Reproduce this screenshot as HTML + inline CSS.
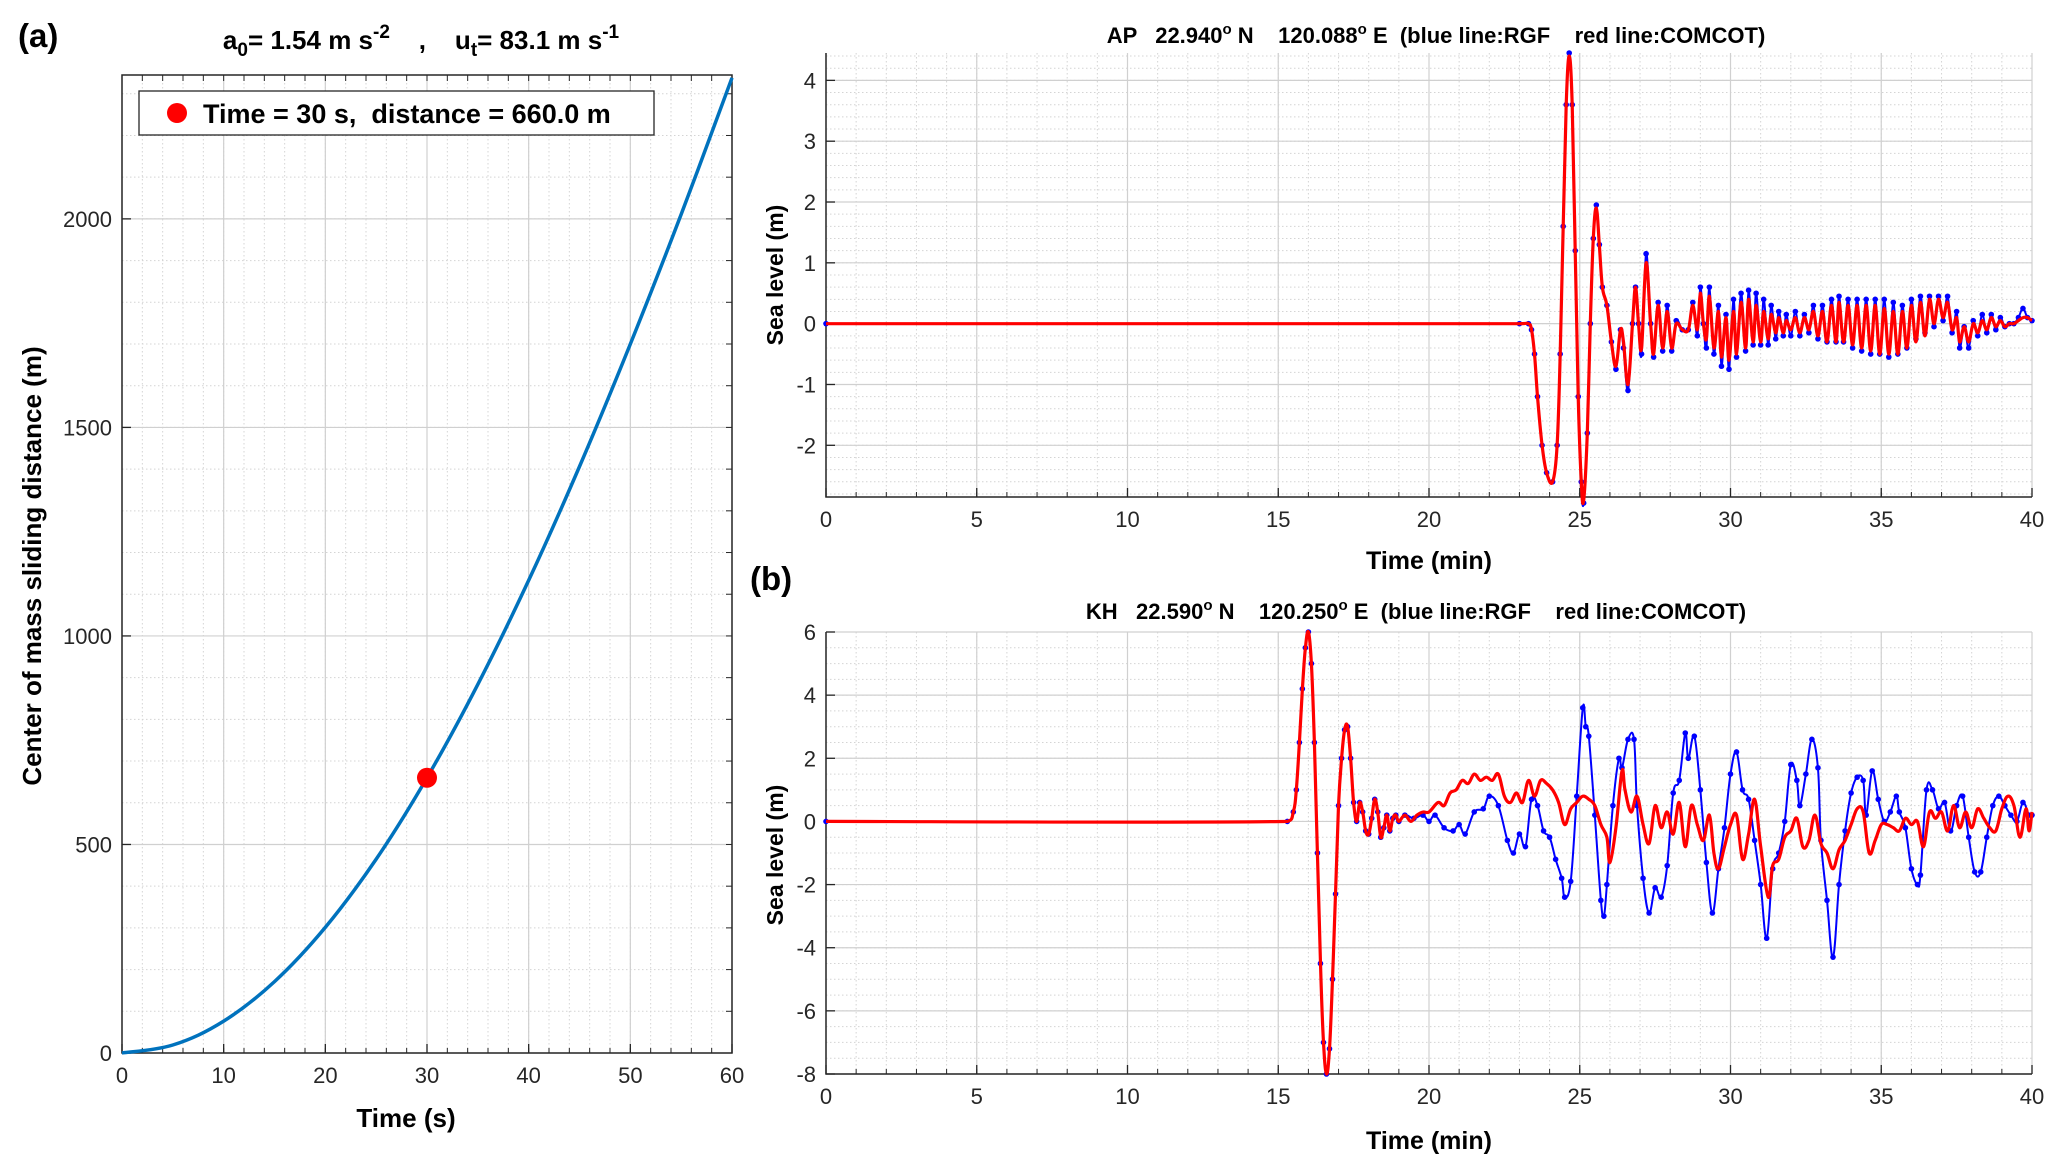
<!DOCTYPE html>
<html><head><meta charset="utf-8"><style>
html,body{margin:0;padding:0;background:#fff;}
svg{display:block;font-family:"Liberation Sans",Arial,sans-serif;}
text{white-space:pre;}
</style></head><body>
<svg id="fig" width="2051" height="1173" viewBox="0 0 2051 1173" xmlns="http://www.w3.org/2000/svg" xml:space="preserve">
<rect width="2051" height="1173" fill="#fff"/>
<g id="gA"></g>
<g id="gAP"></g>
<g id="gKH"></g>
<text x="18" y="47" font-size="33" font-weight="bold">(a)</text>
<text x="750" y="590" font-size="33" font-weight="bold">(b)</text>
<text x="421" y="49" text-anchor="middle" font-size="26" font-weight="bold">a<tspan font-size="19" dy="7">0</tspan><tspan dy="-7">= 1.54 m s</tspan><tspan font-size="19" dy="-11">-2</tspan><tspan dy="11">    ,    u</tspan><tspan font-size="19" dy="7">t</tspan><tspan dy="-7">= 83.1 m s</tspan><tspan font-size="19" dy="-11">-1</tspan></text>
<text x="1436" y="43" text-anchor="middle" font-size="22" font-weight="bold">AP   22.940<tspan font-size="15" dy="-9">o</tspan><tspan dy="9"> N    120.088</tspan><tspan font-size="15" dy="-9">o</tspan><tspan dy="9"> E  (blue line:RGF    red line:COMCOT)</tspan></text>
<text x="1416" y="619" text-anchor="middle" font-size="22" font-weight="bold">KH   22.590<tspan font-size="15" dy="-9">o</tspan><tspan dy="9"> N    120.250</tspan><tspan font-size="15" dy="-9">o</tspan><tspan dy="9"> E  (blue line:RGF    red line:COMCOT)</tspan></text>
</svg>
<script>
// Panel (a) data
const aTime = [0,5,10,15,20,25,30,35,40,45,50,55,60];
const aDist = [0,19.2,76.6,171.1,301.2,464.9,660.0,883.7,1133.4,1406.3,1699.7,2011.1,2338.3];
const aXTicks = [0,10,20,30,40,50,60];
const aYTicks = [0,500,1000,1500,2000];
const aMarkT = [30];
const aMarkD = [660.0];
// AP data
const apTime = [0,23.0,23.3,23.4,23.5,23.6,23.75,23.9,24.1,24.25,24.35,24.45,24.55,24.65,24.75,24.85,24.95,25.05,25.13,25.25,25.35,25.45,25.55,25.65,25.75,25.9,26.05,26.2,26.35,26.45,26.6,26.75,26.85,26.95,27.05,27.2,27.35,27.45,27.6,27.75,27.9,28.05,28.2,28.4,28.6,28.75,28.9,29.0,29.1,29.2,29.3,29.45,29.6,29.7,29.85,29.95,30.1,30.2,30.35,30.5,30.6,30.75,30.85,31.0,31.1,31.25,31.35,31.5,31.6,31.75,31.85,32.0,32.15,32.3,32.45,32.6,32.75,32.9,33.05,33.2,33.35,33.5,33.6,33.75,33.9,34.05,34.2,34.35,34.5,34.65,34.8,34.95,35.1,35.25,35.4,35.55,35.7,35.85,36.0,36.15,36.3,36.45,36.6,36.75,36.9,37.05,37.2,37.35,37.5,37.6,37.75,37.9,38.05,38.2,38.35,38.5,38.65,38.8,38.95,39.1,39.25,39.4,39.55,39.7,39.85,40.0];
const apRed = [0,0,0,-0.1,-0.5,-1.2,-2.0,-2.45,-2.6,-2.0,-0.5,1.6,3.6,4.4,3.6,1.2,-1.2,-2.6,-2.9,-1.8,0.0,1.4,1.9,1.3,0.6,0.3,-0.3,-0.7,-0.1,-0.3,-1.0,0.0,0.6,0.0,-0.4,1.0,0.0,-0.5,0.3,-0.4,0.2,-0.4,0.0,-0.1,-0.1,0.3,-0.1,0.5,0.0,-0.25,0.45,-0.4,0.2,-0.55,0.1,-0.6,0.2,-0.5,0.35,-0.4,0.4,-0.3,0.3,-0.3,0.2,-0.25,0.15,-0.15,0.1,-0.15,0.05,-0.1,0.1,-0.15,0.1,-0.1,0.2,-0.2,0.2,-0.3,0.3,-0.3,0.35,-0.3,0.3,-0.35,0.3,-0.4,0.3,-0.45,0.3,-0.5,0.25,-0.5,0.2,-0.5,0.2,-0.4,0.3,-0.3,0.35,-0.2,0.4,0.0,0.4,0.1,0.35,-0.1,0.1,-0.3,-0.05,-0.3,0.0,-0.15,0.05,-0.1,0.1,-0.05,0.05,-0.05,0.0,0.0,0.05,0.1,0.1,0.05];
const apBlue = [0,0,0,-0.1,-0.5,-1.2,-2.0,-2.45,-2.6,-2.0,-0.5,1.6,3.6,4.45,3.6,1.2,-1.2,-2.6,-2.95,-1.8,0.0,1.4,1.95,1.3,0.6,0.3,-0.3,-0.75,-0.1,-0.4,-1.1,0.0,0.6,0.0,-0.5,1.15,0.0,-0.55,0.35,-0.45,0.3,-0.45,0.05,-0.1,-0.1,0.35,-0.2,0.6,0.0,-0.4,0.6,-0.5,0.3,-0.7,0.15,-0.75,0.4,-0.55,0.5,-0.45,0.55,-0.35,0.5,-0.35,0.4,-0.35,0.3,-0.25,0.2,-0.2,0.15,-0.2,0.2,-0.2,0.15,-0.15,0.3,-0.25,0.3,-0.3,0.4,-0.3,0.45,-0.3,0.4,-0.4,0.4,-0.45,0.4,-0.5,0.4,-0.5,0.4,-0.55,0.35,-0.5,0.3,-0.4,0.4,-0.25,0.45,-0.15,0.45,-0.05,0.45,0.05,0.45,-0.15,0.2,-0.4,-0.05,-0.4,0.05,-0.2,0.15,-0.15,0.15,-0.1,0.1,-0.05,0.0,0.0,0.1,0.25,0.1,0.05];
const apXTicks = [0,5,10,15,20,25,30,35,40];
const apYTicks = [-2,-1,0,1,2,3,4];
// KH data
const khRedTime = [0,15.3,15.5,15.6,15.7,15.8,15.9,16.0,16.1,16.2,16.3,16.4,16.5,16.6,16.7,16.8,16.9,17.0,17.1,17.2,17.3,17.4,17.5,17.6,17.7,17.8,17.9,18.0,18.1,18.2,18.3,18.4,18.5,18.6,18.7,18.8,18.9,19.0,19.2,19.4,19.6,19.8,20.0,20.3,20.5,20.7,20.9,21.1,21.3,21.5,21.7,21.9,22.1,22.3,22.5,22.7,22.9,23.1,23.3,23.5,23.7,23.9,24.1,24.3,24.5,24.7,24.9,25.1,25.3,25.5,25.7,25.9,26.0,26.2,26.4,26.5,26.7,26.9,27.1,27.3,27.5,27.7,27.9,28.1,28.3,28.5,28.7,28.9,29.1,29.3,29.45,29.6,29.8,30.0,30.2,30.4,30.6,30.8,31.0,31.25,31.4,31.6,31.8,32.0,32.2,32.4,32.6,32.8,33.0,33.2,33.4,33.6,33.8,34.0,34.2,34.4,34.6,34.8,35.0,35.2,35.4,35.6,35.8,36.0,36.2,36.4,36.6,36.8,37.0,37.2,37.4,37.6,37.8,38.0,38.2,38.4,38.6,38.8,39.0,39.2,39.4,39.6,39.8,39.9,40.0];
const khRed = [0,0,0.3,1.0,2.5,4.2,5.5,6.0,5.0,2.5,-1.0,-4.5,-7.0,-8.0,-7.2,-5.0,-2.3,0.5,2.0,2.9,3.0,2.0,0.6,0.0,0.6,0.3,-0.3,-0.4,0.1,0.7,0.3,-0.5,-0.2,0.2,-0.3,0.1,0.2,0.0,0.2,0.0,0.2,0.3,0.3,0.6,0.5,0.9,1.0,1.3,1.2,1.5,1.3,1.4,1.3,1.5,0.8,0.6,0.9,0.6,1.3,0.8,1.3,1.2,1.0,0.6,-0.1,0.4,0.6,0.8,0.7,0.5,-0.1,-0.5,-1.3,-0.2,1.6,1.0,0.3,0.8,-0.1,-0.7,0.5,-0.2,0.3,-0.4,0.6,-0.8,0.5,-0.1,-0.6,0.2,-1.0,-1.5,-0.8,-0.1,0.2,-1.2,-0.4,0.7,-0.8,-2.4,-1.4,-1.2,-0.5,-0.3,0.1,-0.8,-0.6,0.2,-0.7,-1.0,-1.5,-0.9,-0.6,-0.1,0.4,0.3,-1.0,-0.6,-0.1,-0.1,-0.2,-0.3,0.1,-0.1,0.0,-0.8,0.3,0.1,0.3,-0.3,0.5,-0.2,0.3,-0.2,0.4,0.1,-0.2,-0.3,0.4,0.8,0.5,-0.5,0.4,-0.3,0.3];
const khBlueTime = [0,15.3,15.5,15.6,15.7,15.8,15.9,16.0,16.1,16.2,16.3,16.4,16.5,16.6,16.7,16.8,16.9,17.0,17.1,17.2,17.3,17.4,17.5,17.6,17.7,17.8,17.9,18.0,18.1,18.2,18.3,18.4,18.5,18.6,18.7,18.8,18.9,19.0,19.2,19.5,19.8,20.0,20.2,20.5,20.8,21.0,21.2,21.5,21.8,22.0,22.3,22.6,22.8,23.0,23.2,23.4,23.6,23.8,24.0,24.2,24.4,24.5,24.7,24.9,25.1,25.2,25.3,25.5,25.7,25.8,25.9,26.1,26.3,26.4,26.6,26.8,26.9,27.1,27.3,27.5,27.7,27.9,28.1,28.3,28.5,28.6,28.8,29.0,29.2,29.4,29.6,29.8,30.0,30.2,30.4,30.6,30.8,31.0,31.2,31.4,31.6,31.8,32.0,32.2,32.3,32.5,32.7,32.9,33.0,33.2,33.4,33.6,33.8,34.0,34.2,34.4,34.5,34.7,34.9,35.1,35.3,35.5,35.6,35.8,36.0,36.2,36.3,36.5,36.7,36.9,37.1,37.3,37.5,37.7,37.9,38.1,38.3,38.5,38.7,38.9,39.1,39.3,39.5,39.7,39.9,40.0];
const khBlue = [0,0,0.3,1.0,2.5,4.2,5.5,6.0,5.0,2.5,-1.0,-4.5,-7.0,-8.0,-7.2,-5.0,-2.3,0.5,2.0,2.9,3.0,2.0,0.6,0.0,0.6,0.3,-0.3,-0.4,0.1,0.7,0.3,-0.5,-0.2,0.2,-0.3,0.1,0.2,0.0,0.2,0.1,0.2,0.0,0.2,-0.2,-0.3,-0.1,-0.4,0.3,0.4,0.8,0.5,-0.6,-1.0,-0.4,-0.8,0.7,0.5,-0.3,-0.5,-1.2,-1.8,-2.4,-1.9,0.8,3.6,3.0,2.7,0.2,-2.5,-3.0,-2.0,0.5,2.0,1.7,2.6,2.6,0.5,-1.8,-2.9,-2.1,-2.4,-1.4,0.9,1.3,2.8,2.0,2.7,1.0,-1.3,-2.9,-1.5,-0.2,1.5,2.2,1.0,0.7,-0.6,-2.0,-3.7,-1.5,-1.0,0.0,1.8,1.3,0.5,1.5,2.6,1.7,-0.6,-2.5,-4.3,-2.0,-0.3,0.9,1.4,1.3,0.2,1.6,0.7,0.0,0.3,0.8,0.3,-0.2,-1.5,-2.0,-1.7,1.0,1.0,0.4,0.6,-0.3,0.5,0.8,-0.5,-1.6,-1.6,-0.5,0.5,0.8,0.5,0.2,0.0,0.6,0.2,0.2];
const khXTicks = [0,5,10,15,20,25,30,35,40];
const khYTicks = [-8,-6,-4,-2,0,2,4,6];

const NS = 'http://www.w3.org/2000/svg';
function mk(parent, tag, attrs, text){
  const e = document.createElementNS(NS, tag);
  for (const k in attrs) e.setAttribute(k, attrs[k]);
  if (text !== undefined) e.textContent = text;
  parent.appendChild(e);
  return e;
}
function smoothPath(pts){
  if (!pts.length) return '';
  let d = 'M' + pts[0][0].toFixed(1) + ',' + pts[0][1].toFixed(1);
  for (let i = 0; i < pts.length - 1; i++){
    const p0 = pts[Math.max(0,i-1)], p1 = pts[i], p2 = pts[i+1], p3 = pts[Math.min(pts.length-1,i+2)];
    const t = 0.18;
    let c1x = p1[0] + (p2[0]-p0[0])*t, c1y = p1[1] + (p2[1]-p0[1])*t;
    let c2x = p2[0] - (p3[0]-p1[0])*t, c2y = p2[1] - (p3[1]-p1[1])*t;
    c1x = Math.min(Math.max(c1x, p1[0]), p2[0]); c2x = Math.min(Math.max(c2x, p1[0]), p2[0]);
    d += 'C' + c1x.toFixed(1)+','+c1y.toFixed(1)+' '+c2x.toFixed(1)+','+c2y.toFixed(1)+' '+p2[0].toFixed(1)+','+p2[1].toFixed(1);
  }
  return d;
}

function axes(g, cfg){
  const {L,R,T,B,x0,x1,y0,y1,xTicks,yTicks,xMinor,yMinor,prefix} = cfg;
  const sx = v => L + (v-x0)/(x1-x0)*(R-L);
  const sy = v => B - (v-y0)/(y1-y0)*(B-T);
  for (let v = x0; v <= x1 + 1e-9; v += xMinor){
    const gl = mk(g,'line',{x1:sx(v),x2:sx(v),y1:T,y2:B,stroke:'#d4d4d4','stroke-width':1,'stroke-dasharray':'1.5,2.5'});
    
    
  }
  for (let v = Math.ceil(y0/yMinor)*yMinor; v <= y1 + 1e-9; v += yMinor){
    const gl = mk(g,'line',{x1:L,x2:R,y1:sy(v),y2:sy(v),stroke:'#d4d4d4','stroke-width':1,'stroke-dasharray':'1.5,2.5'});
    
    
  }
  xTicks.forEach(v => {
    const gl = mk(g,'line',{x1:sx(v),x2:sx(v),y1:T,y2:B,stroke:'#d0d0d0','stroke-width':1.2});
    
    
    const tk = mk(g,'line',{x1:sx(v),x2:sx(v),y1:B,y2:B-9,stroke:'#262626','stroke-width':1.3});
    
    
    const tl = mk(g,'text',{x:sx(v),y:B+30,'text-anchor':'middle','font-size':22,fill:'#262626'}, String(v));
    
    
  });
  yTicks.forEach(v => {
    const gl = mk(g,'line',{x1:L,x2:R,y1:sy(v),y2:sy(v),stroke:'#d0d0d0','stroke-width':1.2});
    
    
    const tk = mk(g,'line',{x1:L,x2:L+9,y1:sy(v),y2:sy(v),stroke:'#262626','stroke-width':1.3});
    
    
    const tl = mk(g,'text',{x:L-10,y:sy(v)+8,'text-anchor':'end','font-size':22,fill:'#262626'}, String(v));
    
    
  });
  for (let v = x0; v <= x1 + 1e-9; v += xMinor){
    const tk = mk(g,'line',{x1:sx(v),x2:sx(v),y1:B,y2:B-5,stroke:'#262626','stroke-width':1});
    
    
  }
  return {sx, sy};
}
function frame(g, L,R,T,B, prefix, full){
  const ax = mk(g,'path',{d: full ? `M${L},${T}H${R}V${B}H${L}Z` : `M${L},${T}V${B}H${R}`, fill:'none', stroke:'#262626','stroke-width':1.5});
  
  
}

(function(){
  const g = document.getElementById('gA');
  const L=122,R=732,T=75,B=1053;
  const {sx,sy} = axes(g,{L,R,T,B,x0:0,x1:60,y0:0,y1:2345,xTicks:aXTicks,yTicks:aYTicks,xMinor:2,yMinor:100,prefix:'a'});
  for (let v = 0; v <= 60; v += 2){
    const tk = mk(g,'line',{x1:sx(v),x2:sx(v),y1:T,y2:T+6,stroke:'#262626','stroke-width':1});
    
    
  }
  for (let v = 0; v <= 2300; v += 100){
    const tk = mk(g,'line',{x1:R,x2:R-6,y1:sy(v),y2:sy(v),stroke:'#262626','stroke-width':1});
    
    
  }
  frame(g,L,R,T,B,'a',true);
  const pts = aTime.map((t,i)=>[sx(t), sy(aDist[i])]);
  const line = mk(g,'path',{d:smoothPath(pts),fill:'none',stroke:'#0072bd','stroke-width':3.5});
  
  
  aMarkT.forEach((t,i)=>{
    const c = mk(g,'circle',{cx:sx(t),cy:sy(aMarkD[i]),r:10,fill:'#ff0000'});
    
    
  });
  const lg = mk(g,'g',{});
  
  
  mk(lg,'rect',{x:139,y:91,width:515,height:44,fill:'#fff',stroke:'#262626','stroke-width':1.3});
  const ld = mk(lg,'circle',{cx:177,cy:113,r:10,fill:'#ff0000'});
  
  
  const lt = mk(lg,'text',{x:203,y:123,'font-size':27,'font-weight':'bold',fill:'#000'},'Time = 30 s,  distance = 660.0 m');
  
  
  const yt = mk(g,'text',{x:0,y:0,transform:'translate(41,566) rotate(-90)','text-anchor':'middle','font-size':26,'font-weight':'bold'},'Center of mass sliding distance (m)');
  
  
  const xt = mk(g,'text',{x:406,y:1127,'text-anchor':'middle','font-size':26,'font-weight':'bold'},'Time (s)');
  
  
})();

function seaPanel(gid, prefix, cfg, blueT, blueV, redT, redV){
  const g = document.getElementById(gid);
  const {L,R,T,B,y0,y1,yTicks,xTicks,yMinor,ytx,yty,xty} = cfg;
  const {sx,sy} = axes(g,{L,R,T,B,x0:0,x1:40,y0,y1,xTicks,yTicks,xMinor:1,yMinor,prefix});
  frame(g,L,R,T,B,prefix,false);
  const bp = blueT.map((t,i)=>[sx(t), sy(blueV[i])]);
  const bl = mk(g,'path',{d:smoothPath(bp),fill:'none',stroke:'#0000ff','stroke-width':2});
  
  
  const dots = mk(g,'g',{fill:'#0000ff'});
  
  
  bp.forEach(p=>{
    const c = mk(dots,'circle',{cx:p[0],cy:p[1],r:2.8});
    
    
  });
  const rp = redT.map((t,i)=>[sx(t), sy(redV[i])]);
  const rl = mk(g,'path',{d:smoothPath(rp),fill:'none',stroke:'#ff0000','stroke-width':3.2,'stroke-linejoin':'round'});
  
  
  const yt = mk(g,'text',{x:0,y:0,transform:`translate(${ytx},${yty}) rotate(-90)`,'text-anchor':'middle','font-size':23,'font-weight':'bold'},'Sea level (m)');
  
  
  const xt = mk(g,'text',{x:(L+R)/2,y:xty,'text-anchor':'middle','font-size':25,'font-weight':'bold'},'Time (min)');
  
  
}
seaPanel('gAP','ap',{L:826,R:2032,T:53,B:497,y0:-2.85,y1:4.45,yTicks:apYTicks,xTicks:apXTicks,yMinor:0.2,ytx:783,yty:275,xty:569}, apTime, apBlue, apTime, apRed);
seaPanel('gKH','kh',{L:826,R:2032,T:632,B:1074,y0:-8,y1:6,yTicks:khYTicks,xTicks:khXTicks,yMinor:0.5,ytx:783,yty:855,xty:1149}, khBlueTime, khBlue, khRedTime, khRed);
</script>
</body></html>
